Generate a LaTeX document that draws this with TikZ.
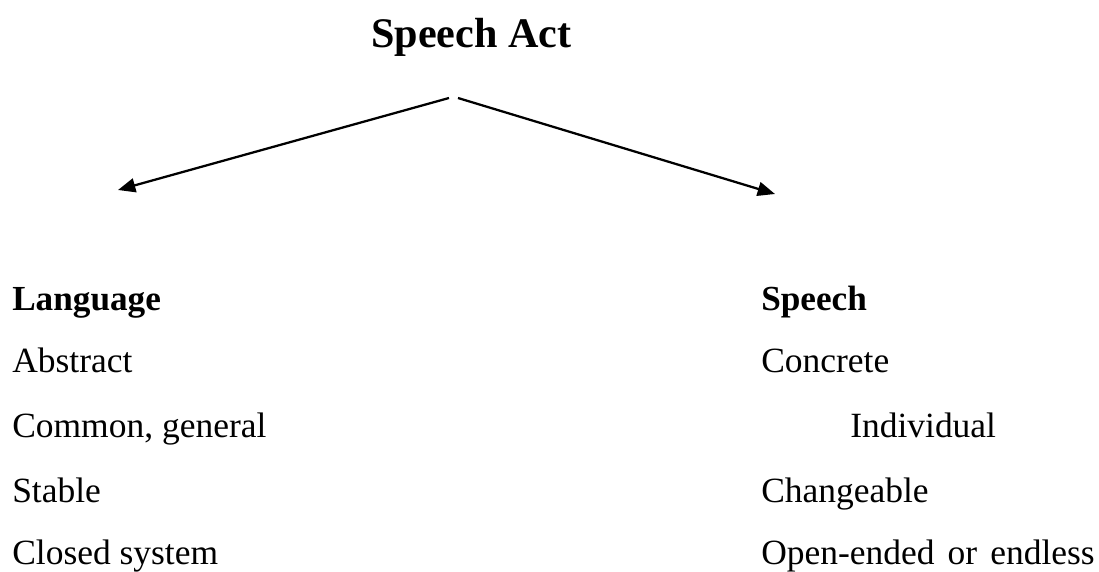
\documentclass[tikz,border=0pt]{standalone}
\usepackage{fontspec}
\setmainfont{Liberation Serif}
\usetikzlibrary{arrows.meta}
\begin{document}
\begin{tikzpicture}[x=0.75pt,y=-0.75pt,
  item/.style={anchor=base west,inner sep=0pt,font=\fontsize{26.6pt}{30pt}\selectfont},
  head/.style={item,font=\fontsize{26.4pt}{30pt}\selectfont\bfseries},
  title/.style={anchor=base west,inner sep=0pt,font=\fontsize{31.6pt}{36pt}\selectfont\bfseries},
  conn/.style={line width=1.7pt,-{Triangle[length=13pt,width=10.5pt]}}]
\useasboundingbox (0,0) rectangle (1099,571);
\node[title] (t) at (371,47) {Speech Act};
\coordinate (sl) at (449,98);
\coordinate (sr) at (458,98);
\coordinate (el) at (118,190);
\coordinate (er) at (775,194);
\draw[conn] (sl) -- (el);
\draw[conn] (sr) -- (er);
\node[head] (lang) at (12,310) {Language};
\node[item] (l1) at (12,372) {Abstract};
\node[item] (l2) at (12,437) {Common, general};
\node[item] (l3) at (12,502) {Stable};
\node[item] (l4) at (12,564) {Closed system};
\node[head] (sp) at (761,310) {Speech};
\node[item] (r1) at (761,372) {Concrete};
\node[item] (r2) at (850,437) {Individual};
\node[item] (r3) at (761,502) {Changeable};
\node[item] (r4) at (761,564) {Open-ended\hspace{0.12em} or\hspace{0.12em} endless};
\end{tikzpicture}
\end{document}
